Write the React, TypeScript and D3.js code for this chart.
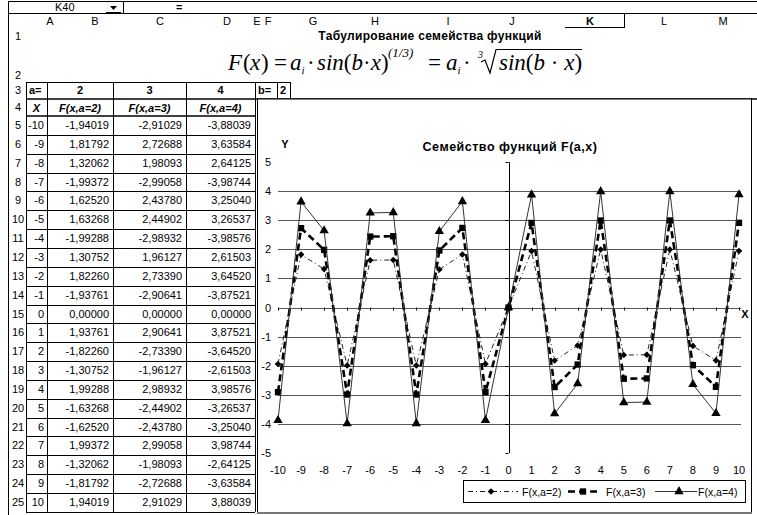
import React from 'react';
import * as d3 from 'd3';

// spreadsheet data
const xValues = [-10, -9, -8, -7, -6, -5, -4, -3, -2, -1, 0, 1, 2, 3, 4, 5, 6, 7, 8, 9, 10];
const aValues = [2, 3, 4];
const bValue = 2;
const seriesA2 = [-1.94019, 1.81792, 1.32062, -1.99372, 1.6252, 1.63268, -1.99288, 1.30752, 1.8226, -1.93761, 0, 1.93761, -1.8226, -1.30752, 1.99288, -1.63268, -1.6252, 1.99372, -1.32062, -1.81792, 1.94019];
const seriesA3 = [-2.91029, 2.72688, 1.98093, -2.99058, 2.4378, 2.44902, -2.98932, 1.96127, 2.7339, -2.90641, 0, 2.90641, -2.7339, -1.96127, 2.98932, -2.44902, -2.4378, 2.99058, -1.98093, -2.72688, 2.91029];
const seriesA4 = [-3.88039, 3.63584, 2.64125, -3.98744, 3.2504, 3.26537, -3.98576, 2.61503, 3.6452, -3.87521, 0, 3.87521, -3.6452, -2.61503, 3.98576, -3.26537, -3.2504, 3.98744, -2.64125, -3.63584, 3.88039];
const seriesNames = ['F(x,a=2)', 'F(x,a=3)', 'F(x,a=4)'];
const columnLetters = ['A', 'B', 'C', 'D', 'E', 'F', 'G', 'H', 'I', 'J', 'K', 'L', 'M'];
const yTicks = [5, 4, 3, 2, 1, 0, -1, -2, -3, -4, -5];

const sans = '"Liberation Sans", Arial, sans-serif';
const serif = '"Liberation Serif", "Times New Roman", serif';
const fmt = (v: number) => d3.format('.5f')(v).replace('.', ',').replace('−', '-');

// layout of the sheet
const colX = [8, 26, 47, 113, 186, 255]; // row header | A | B | C | D | end
const colLetterX = [50, 95, 160, 227, 257, 268, 313, 375, 448, 512, 590, 664, 723];
const row3 = [82, 99];
const row4 = [99, 116];
const rowH = 18.85;
const rowTop = (i: number) => 116 + i * rowH;

export default function App() {
  const x = d3.scaleLinear().domain([-10, 10]).range([278, 739]);
  const y = d3.scaleLinear().domain([-5, 5]).range([453, 162]);
  const series = [seriesA2, seriesA3, seriesA4];
  const line = d3
    .line<number>()
    .x((d, i) => x(xValues[i]))
    .y((d) => y(d));
  const styles = [
    { stroke: '#222', width: 1, dash: '5,3,1,3' },
    { stroke: '#000', width: 2.6, dash: '7,4' },
    { stroke: '#333', width: 1, dash: null },
  ];
  const symbols = [
    d3.symbol().type(d3.symbolSquare).size(22)(),
    d3.symbol().type(d3.symbolSquare).size(40)(),
    d3.symbol().type(d3.symbolTriangle).size(38)(),
  ];
  const symTransform = (k: number, px: number, py: number) =>
    k === 0 ? `translate(${px},${py}) rotate(45)` : `translate(${px},${py})`;

  const legend = [
    { x1: 468, x2: 518, mx: 491, tx: 522 },
    { x1: 568, x2: 598, mx: 583, tx: 606 },
    { x1: 655, x2: 697, mx: 679, tx: 698 },
  ];

  return (
    <div style={{ position: 'absolute', left: 0, top: 0 }}>
      <svg width={757} height={515} style={{ display: 'block', background: '#fff' }}>
        {/* formula bar */}
        <line x1={8} x2={757} y1={1.5} y2={1.5} stroke="#000" />
        <line x1={8} x2={757} y1={13.5} y2={13.5} stroke="#000" />
        <line x1={8.5} x2={8.5} y1={1} y2={515} stroke="#000" />
        <line x1={123.5} x2={123.5} y1={2} y2={13} stroke="#000" />
        <text x={55} y={11} fontFamily={sans} fontSize={11}>K40</text>
        <path d="M110,6 L117,6 L113.5,10 Z" fill="#000" />
        <line x1={106} x2={121} y1={12.5} y2={12.5} stroke="#000" />
        <text x={176} y={11} fontFamily={sans} fontSize={11} fontWeight="bold">=</text>

        {/* column headers */}
        {columnLetters.map((c, i) => (
          <text key={c} x={colLetterX[i]} y={25} textAnchor="middle" fontFamily={sans} fontSize={11}
            fontWeight={c === 'K' ? 'bold' : 'normal'}>{c}</text>
        ))}
        <line x1={565} x2={624} y1={27.5} y2={27.5} stroke="#000" />
        <line x1={624.5} x2={624.5} y1={14} y2={28} stroke="#000" />

        {/* row numbers */}
        <text x={18} y={40} textAnchor="middle" fontFamily={sans} fontSize={11}>1</text>
        <text x={18} y={79} textAnchor="middle" fontFamily={sans} fontSize={11}>2</text>
        <text x={18} y={94} textAnchor="middle" fontFamily={sans} fontSize={11}>3</text>
        <text x={18} y={111} textAnchor="middle" fontFamily={sans} fontSize={11}>4</text>
        {xValues.map((v, i) => (
          <text key={'r' + i} x={18} y={rowTop(i) + 13} textAnchor="middle" fontFamily={sans} fontSize={11}>{i + 5}</text>
        ))}

        {/* title row 1 */}
        <text x={430} y={40} textAnchor="middle" fontFamily={sans} fontSize={12} fontWeight="bold" letterSpacing={0.3}>
          Табулирование семейства функций
        </text>

        {/* formula row 2 */}
        <g fontFamily={serif} fontSize={23} fontStyle="italic">
          <text x={228} y={70}>F</text>
          <text x={243} y={70} fontStyle="normal">(</text>
          <text x={250} y={70}>x</text>
          <text x={261} y={70} fontStyle="normal">)</text>
          <text x={274} y={70} fontStyle="normal">=</text>
          <text x={290} y={70}>a<tspan fontSize={11} dy={4}>i</tspan></text>
          <text x={307} y={70} fontStyle="normal">·</text>
          <text x={317} y={70}>sin<tspan fontStyle="normal">(</tspan>b<tspan fontStyle="normal">·</tspan>x<tspan fontStyle="normal">)</tspan></text>
          <text x={388} y={57} fontSize={13}>(1/3)</text>
          <text x={428} y={70} fontStyle="normal">=</text>
          <text x={446} y={70}>a<tspan fontSize={11} dy={4}>i</tspan></text>
          <text x={463} y={70} fontStyle="normal">·</text>
          <text x={478} y={58} fontSize={10}>3</text>
          <text x={499} y={70}>sin<tspan fontStyle="normal">(</tspan>b<tspan fontStyle="normal"> · </tspan>x<tspan fontStyle="normal">)</tspan></text>
        </g>
        <path d="M481,62 L485,60 L490,73 L496,49.5 L582,49.5" fill="none" stroke="#000" strokeWidth={1.2} />

        {/* table header rows 3-4 */}
        <g fontFamily={sans} fontSize={11} fontWeight="bold">
          <text x={colX[1] + 3} y={row3[0] + 12}>a=</text>
          {aValues.map((a, k) => (
            <text key={'a' + a} x={(colX[k + 2] + colX[k + 3]) / 2} y={row3[0] + 12} textAnchor="middle">{a}</text>
          ))}
          <text x={(colX[1] + colX[2]) / 2} y={row4[0] + 13} textAnchor="middle" fontStyle="italic">X</text>
          {seriesNames.map((n, k) => (
            <text key={n} x={(colX[k + 2] + colX[k + 3]) / 2} y={row4[0] + 13} textAnchor="middle" fontStyle="italic">{n}</text>
          ))}
          <text x={258} y={row3[0] + 12}>b=</text>
          <text x={280} y={row3[0] + 12}>{bValue}</text>
        </g>
        {/* table borders */}
        <g stroke="#000" fill="none">
          {colX.slice(1).map((cx, i) => (
            <line key={'v' + i} x1={cx + 0.5} x2={cx + 0.5} y1={row3[0]} y2={rowTop(xValues.length)} />
          ))}
          <line x1={colX[1]} x2={290} y1={row3[0] + 0.5} y2={row3[0] + 0.5} />
          <line x1={colX[1]} x2={757} y1={row3[1]} y2={row3[1]} strokeWidth={1.5} />
          <line x1={colX[1]} x2={colX[5]} y1={row4[1]} y2={row4[1]} strokeWidth={1.5} />
          {xValues.map((v, i) => (
            <line key={'h' + i} x1={colX[1]} x2={colX[5]} y1={Math.round(rowTop(i + 1)) + 0.5} y2={Math.round(rowTop(i + 1)) + 0.5} />
          ))}
          <line x1={277.5} x2={277.5} y1={row3[0]} y2={row3[1]} />
          <line x1={290.5} x2={290.5} y1={row3[0]} y2={row3[1]} />
        </g>
        {/* table values */}
        <g fontFamily={sans} fontSize={11}>
          {xValues.map((v, i) => (
            <g key={'c' + i}>
              <text x={colX[2] - 3} y={rowTop(i) + 13} textAnchor="end">{v}</text>
              {series.map((s, k) => (
                <text key={k} x={colX[k + 3] - 4} y={rowTop(i) + 13} textAnchor="end">{fmt(s[i])}</text>
              ))}
            </g>
          ))}
        </g>

        {/* chart object */}
        <rect x={257.5} y={99} width={494} height={414} fill="#fff" stroke="#000" />
        <line x1={257} x2={752} y1={513} y2={513} stroke="#777" strokeWidth={2} />
        <text x={510} y={151} textAnchor="middle" fontFamily={sans} fontSize={12.5} fontWeight="bold" letterSpacing={0.5}>
          Семейство функций F(a,x)
        </text>
        <text x={285} y={148} textAnchor="middle" fontFamily={sans} fontSize={11} fontWeight="bold">Y</text>
        <text x={745} y={318} textAnchor="middle" fontFamily={sans} fontSize={11} fontWeight="bold">X</text>

        {/* gridlines */}
        {yTicks.filter((t) => Math.abs(t) < 5).map((t) => (
          <line key={'g' + t} x1={x(-10)} x2={x(10) + 2} y1={Math.round(y(t)) + 0.5} y2={Math.round(y(t)) + 0.5}
            stroke="#555" strokeWidth={1} />
        ))}
        {/* axes */}
        <line x1={Math.round(x(0)) + 0.5} x2={Math.round(x(0)) + 0.5} y1={y(5)} y2={y(-5)} stroke="#000" />
        {yTicks.map((t) => (
          <line key={'yt' + t} x1={x(0) - 3} x2={x(0)} y1={Math.round(y(t)) + 0.5} y2={Math.round(y(t)) + 0.5} stroke="#000" />
        ))}
        {xValues.map((v) => (
          <line key={'xt' + v} x1={Math.round(x(v)) + 0.5} x2={Math.round(x(v)) + 0.5} y1={y(0)} y2={y(0) + 3} stroke="#000" />
        ))}
        {yTicks.map((t) => (
          <text key={'yl' + t} x={271} y={y(t) + 4} textAnchor="end" fontFamily={sans} fontSize={11}>{t}</text>
        ))}
        {xValues.map((v) => (
          <text key={'xl' + v} x={x(v)} y={474} textAnchor="middle" fontFamily={sans} fontSize={11}>{v}</text>
        ))}

        {/* series */}
        {series.map((s, k) => (
          <g key={'s' + k}>
            <path d={line(s) || ''} fill="none" stroke={styles[k].stroke} strokeWidth={styles[k].width}
              strokeDasharray={styles[k].dash || undefined} />
            {s.map((v, i) => (
              <path key={i} d={symbols[k] || ''} transform={symTransform(k, x(xValues[i]), y(v))} fill="#000" />
            ))}
          </g>
        ))}

        {/* legend */}
        <rect x={463.5} y={480.5} width={282} height={22} fill="#fff" stroke="#000" />
        {legend.map((l, k) => (
          <g key={'l' + k}>
            <line x1={l.x1} x2={l.x2} y1={491.5} y2={491.5} stroke={styles[k].stroke} strokeWidth={styles[k].width}
              strokeDasharray={styles[k].dash || undefined} />
            <path d={symbols[k] || ''} transform={symTransform(k, l.mx, 491.5)} fill="#000" />
            <text x={l.tx} y={495.5} fontFamily={sans} fontSize={10.5}>{seriesNames[k]}</text>
          </g>
        ))}
      </svg>
    </div>
  );
}
